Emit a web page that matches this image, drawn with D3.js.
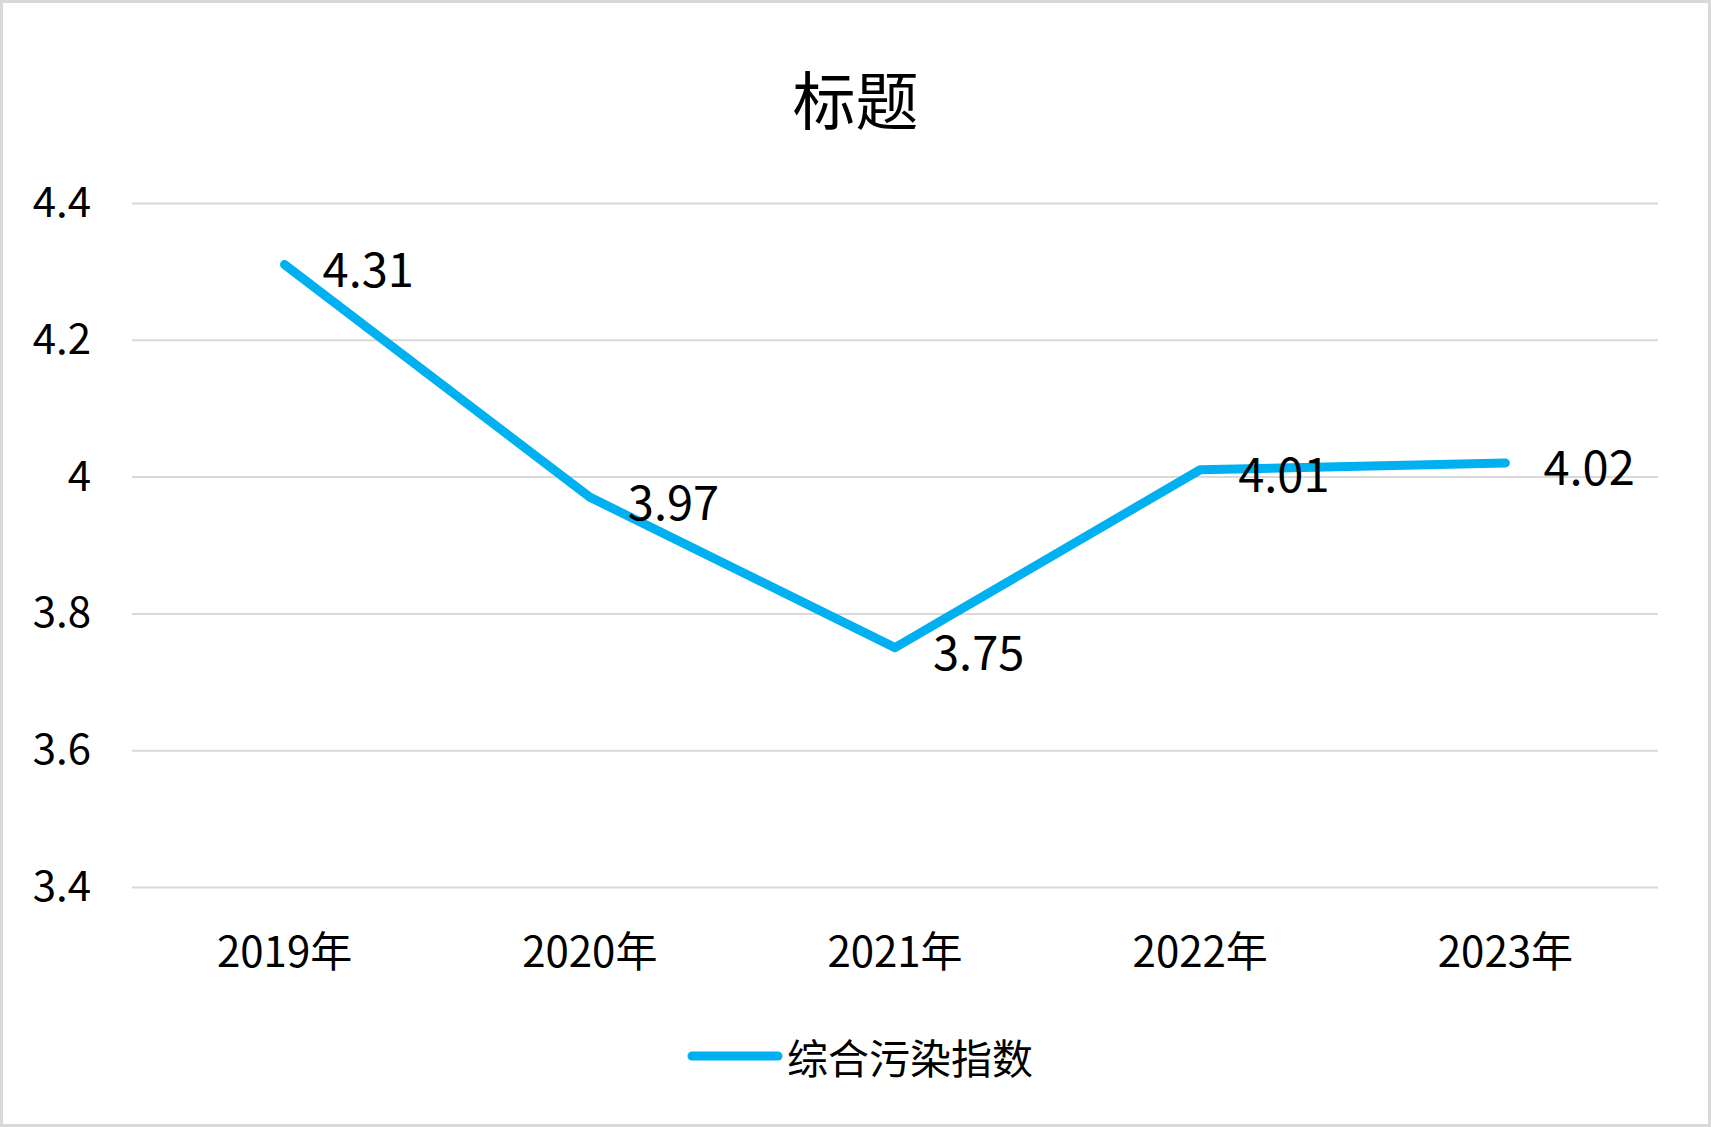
<!DOCTYPE html>
<html>
<head>
<meta charset="utf-8">
<script src="https://cdn.jsdelivr.net/npm/d3@7"></script>
<style>
  html, body { margin: 0; padding: 0; background: #ffffff; }
  svg { display: block; }
  text { font-family: "Noto Sans CJK SC", "Noto Sans", sans-serif; fill: #000; }
</style>
</head>
<body>
<svg id="chart" width="1711" height="1127"></svg>
<script>
// ---- data ----
const title = "标题";
const seriesName = "综合污染指数";
const categories = ["2019年", "2020年", "2021年", "2022年", "2023年"];
const values = [4.31, 3.97, 3.75, 4.01, 4.02];
const yTicks = [3.4, 3.6, 3.8, 4, 4.2, 4.4];
const yDomain = [3.4, 4.4];

// ---- layout ----
const W = 1711, H = 1127;
const plot = { left: 132, right: 1658, top: 203, bottom: 887 };
const lineColor = "#00B0F0";

const svg = d3.select("#chart");

// background + border
svg.append("rect")
  .attr("x", 1.5).attr("y", 1.5)
  .attr("width", W - 3).attr("height", H - 3)
  .attr("fill", "#ffffff")
  .attr("stroke", "#d9d9d9")
  .attr("stroke-width", 3);

const x = d3.scaleBand().domain(categories).range([plot.left, plot.right]).padding(0);
const y = d3.scaleLinear().domain(yDomain).range([plot.bottom, plot.top]);

// y axis with gridlines
const yAxis = d3.axisLeft(y)
  .tickValues(yTicks)
  .tickSize(-(plot.right - plot.left))
  .tickPadding(41)
  .tickFormat(d => String(+d.toFixed(1)));

const gy = svg.append("g")
  .attr("transform", `translate(${plot.left},0)`)
  .call(yAxis);
gy.select(".domain").remove();
gy.selectAll(".tick line").attr("stroke", "#d9d9d9").attr("stroke-width", 2);
gy.selectAll(".tick text")
  .attr("font-size", 42)
  .attr("font-family", "'Noto Sans CJK SC', sans-serif")
  .attr("fill", "#000");

// x axis labels
const xAxis = d3.axisBottom(x).tickSize(0).tickPadding(50);
const gx = svg.append("g")
  .attr("transform", `translate(0,${plot.bottom})`)
  .call(xAxis);
gx.select(".domain").remove();
gx.selectAll(".tick text")
  .attr("font-size", 42)
  .attr("font-family", "'Noto Sans CJK SC', sans-serif")
  .attr("fill", "#000");

// line
const data = categories.map((c, i) => ({ c, v: values[i] }));
const line = d3.line()
  .x(d => x(d.c) + x.bandwidth() / 2)
  .y(d => y(d.v));

svg.append("path")
  .datum(data)
  .attr("d", line)
  .attr("fill", "none")
  .attr("stroke", lineColor)
  .attr("stroke-width", 9)
  .attr("stroke-linecap", "round")
  .attr("stroke-linejoin", "round");

// data labels
svg.append("g").selectAll("text")
  .data(data)
  .join("text")
  .attr("x", d => x(d.c) + x.bandwidth() / 2 + 38)
  .attr("y", d => y(d.v) + 2)
  .attr("dominant-baseline", "central")
  .attr("font-size", 47)
  .text(d => d.v.toFixed(2));

// title
svg.append("text")
  .attr("x", W / 2)
  .attr("y", 96)
  .attr("text-anchor", "middle")
  .attr("dominant-baseline", "central")
  .attr("font-size", 63)
  .text(title);

// legend
const lg = svg.append("g");
lg.append("line")
  .attr("x1", 692).attr("x2", 778)
  .attr("y1", 1056).attr("y2", 1056)
  .attr("stroke", lineColor)
  .attr("stroke-width", 9)
  .attr("stroke-linecap", "round");
lg.append("text")
  .attr("x", 787)
  .attr("y", 1056)
  .attr("dominant-baseline", "central")
  .attr("font-size", 41)
  .text(seriesName);
</script>
</body>
</html>
